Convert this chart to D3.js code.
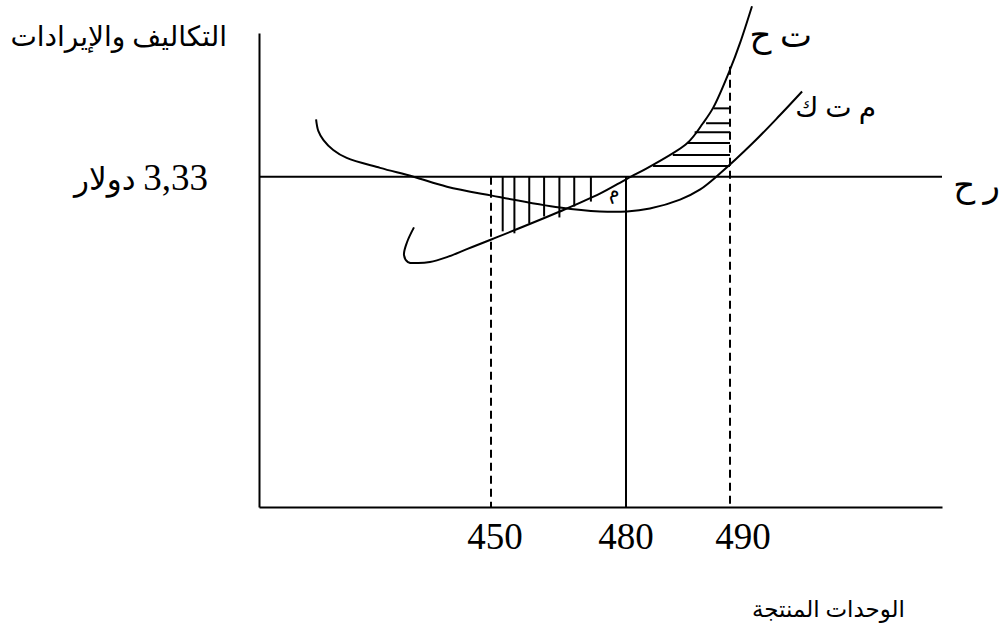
<!DOCTYPE html>
<html><head><meta charset="utf-8">
<script src="https://cdn.jsdelivr.net/npm/d3@7"></script>
<style>body{margin:0;background:#fff}svg{display:block}</style>
</head><body>
<svg id="chart" width="1007" height="628"></svg>
<script>
// ---- data ----
const quantityTicks = [450, 480, 490];
const quantityTickLabels = ["450", "480", "490"];
const priceLevel = 3.33;
const priceLabel = "3,33 دولار";
const yAxisTitle = "التكاليف والإيرادات";
const xAxisTitle = "الوحدات المنتجة";
const mcLabel = "ت ح";
const atcLabel = "م ت ك";
const mrLabel = "ر ح";
const pointLabel = "م";

// average total cost curve (م ت ك)
const atcQ = [412.3, 412.8, 413.9, 416.0, 418.9, 426.1, 433.3, 440.5, 450.2, 465.3, 474.2, 480.1, 482.3, 485.2, 487.1, 489.0, 494.3, 499.4, 503.6];
const atcP = [3.91, 3.79, 3.70, 3.60, 3.52, 3.42, 3.33, 3.23, 3.14, 3.02, 2.98, 2.98, 3.01, 3.10, 3.20, 3.36, 3.67, 3.95, 4.19];
// marginal cost curve (ت ح)
const mcQ = [433.4, 431.9, 431.25, 432.1, 434.05, 436.85, 440.5, 444.8, 450.2, 465.3, 474.2, 480.1, 482.6, 485.9, 487.4, 488.4, 490.0, 491.9, 494.15];
const mcP = [2.82, 2.67, 2.54, 2.47, 2.46, 2.47, 2.52, 2.60, 2.70, 2.98, 3.16, 3.31, 3.45, 3.67, 3.87, 4.03, 4.41, 4.68, 5.05];

// vertical hatching (left area)
const hatchVQ = [452.6, 455.2, 458.5, 461.8, 465.2, 468.5, 472.2];
const hatchVLowP = [2.78, 2.76, 2.86, 2.93, 2.92, 3.03, 3.08];
// horizontal hatching (right area)
const hatchHP = [4.02, 3.87, 3.78, 3.67, 3.55, 3.44];
const hatchHLeftQ = [488.4, 487.7, 486.6, 485.9, 484.5, 482.6];
const hatchHRightQ = 490;
const dashedTopP = 4.44;

const qDomain = [400, 450, 480, 490, 530];
const pMax = 4.78;

// ---- layout ----
const svg = d3.select("#chart");
const x = d3.scaleLinear().domain(qDomain).range([259, 491, 626, 730, 942]);
const y = d3.scaleLinear().domain([0, pMax]).range([507, 33]);
const q0 = qDomain[0], q1 = qDomain[qDomain.length - 1];
const ink = "#000";
const serif = "'Liberation Serif','Times New Roman',serif";
const arab = "'Liberation Serif','DejaVu Sans',sans-serif";

// axes (domain lines only)
svg.append("g").attr("transform", `translate(0,${y(0)})`)
  .call(d3.axisBottom(x).tickValues([]).tickSizeOuter(0));
svg.append("g").attr("transform", `translate(${x(q0)},0)`)
  .call(d3.axisLeft(y).tickValues([]).tickSizeOuter(0));
svg.selectAll(".domain").attr("stroke", ink).attr("stroke-width", 2);

// price line ر ح
svg.append("line")
  .attr("x1", x(q0)).attr("x2", x(q1))
  .attr("y1", y(priceLevel)).attr("y2", y(priceLevel))
  .attr("stroke", ink).attr("stroke-width", 2);

// vertical guides
const guides = [
  {q: quantityTicks[0], top: priceLevel, dash: "8,5"},
  {q: quantityTicks[1], top: priceLevel, dash: null},
  {q: quantityTicks[2], top: dashedTopP, dash: "8,5"}
];
svg.selectAll("line.guide").data(guides).join("line")
  .attr("class", "guide")
  .attr("x1", d => x(d.q)).attr("x2", d => x(d.q))
  .attr("y1", d => y(d.top)).attr("y2", y(0))
  .attr("stroke", ink).attr("stroke-width", 2)
  .attr("stroke-dasharray", d => d.dash);

// hatching
svg.selectAll("line.hv").data(hatchVQ).join("line")
  .attr("class", "hv")
  .attr("x1", d => x(d)).attr("x2", d => x(d))
  .attr("y1", y(priceLevel)).attr("y2", (d, i) => y(hatchVLowP[i]))
  .attr("stroke", ink).attr("stroke-width", 2);
svg.selectAll("line.hh").data(hatchHP).join("line")
  .attr("class", "hh")
  .attr("x1", (d, i) => x(hatchHLeftQ[i])).attr("x2", x(hatchHRightQ))
  .attr("y1", d => y(d)).attr("y2", d => y(d))
  .attr("stroke", ink).attr("stroke-width", 2);

// curves
const line = d3.line().x(d => x(d[0])).y(d => y(d[1])).curve(d3.curveCatmullRom.alpha(0.5));
svg.append("path").datum(d3.zip(atcQ, atcP)).attr("d", line)
  .attr("fill", "none").attr("stroke", ink).attr("stroke-width", 2);
svg.append("path").datum(d3.zip(mcQ, mcP)).attr("d", line)
  .attr("fill", "none").attr("stroke", ink).attr("stroke-width", 2);

// tick labels
const tickShift = [4, 0, 13];
svg.selectAll("text.tick").data(quantityTickLabels).join("text")
  .attr("class", "tick")
  .attr("x", (d, i) => x(quantityTicks[i]) + tickShift[i])
  .attr("y", y(0) + 42)
  .attr("text-anchor", "middle")
  .attr("font-family", serif).attr("font-size", 37).attr("fill", ink)
  .text(d => d);

function label(txt, px, py, size) {
  return svg.append("text")
    .attr("x", px).attr("y", py)
    .attr("direction", "rtl").attr("text-anchor", "start")
    .attr("font-family", arab).attr("font-size", size).attr("fill", ink)
    .text(txt);
}
label(yAxisTitle, x(q0) - 32, y(pMax) + 13, 28);
// price label: number in serif, word slightly smaller
const priceParts = priceLabel.split(" ");
const pl = svg.append("text")
  .attr("x", x(q0) - 51).attr("y", y(priceLevel) + 13)
  .attr("direction", "rtl").attr("text-anchor", "start")
  .attr("font-family", arab).attr("fill", ink);
pl.append("tspan").attr("font-size", 37).text(priceParts[0]);
pl.append("tspan").attr("font-size", 31).text(" " + priceParts.slice(1).join(" "));
label(xAxisTitle, 905, y(0) + 110, 23);
label(mcLabel, 812, 47, 34);
label(atcLabel, 876, 117, 28);
label(mrLabel, x(q1) + 58, y(priceLevel) + 20, 34);
svg.append("text")
  .attr("transform", `translate(${x(477.5)},${y(priceLevel) + 21}) rotate(-20)`)
  .attr("text-anchor", "middle")
  .attr("font-family", arab).attr("font-size", 20).attr("fill", ink)
  .text(pointLabel);
</script>
</body></html>
